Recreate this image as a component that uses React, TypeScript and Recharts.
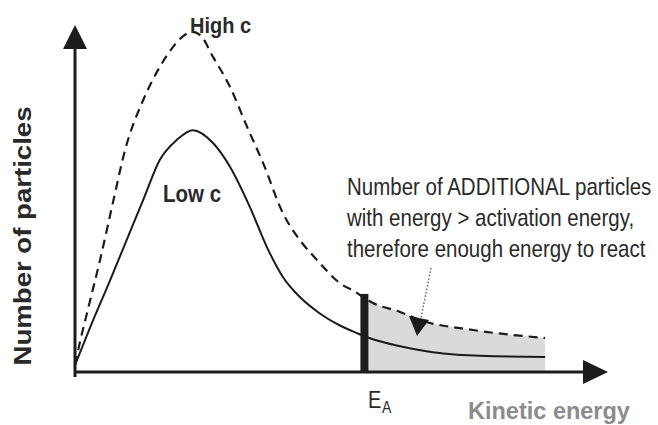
import React from 'react'
import { ComposedChart, Line, Area, XAxis, YAxis, ReferenceLine } from 'recharts'

// kinetic energy (x) / number of particles (y), arbitrary units 0..100
const highEnergy = [0, 0.9, 2.4, 4.7, 7.1, 9.4, 12.8, 15.9, 18.4, 20.3, 22.0, 23.5, 25.9, 29.1, 32.3, 35.3, 39.0, 42.2, 45.4, 49.7, 52.9, 54.6, 55.9, 61.0, 64.7, 74.7, 88.2]
const highCount  = [2.0, 8.4, 17.9, 32.3, 48.7, 64.0, 78.4, 87.9, 93.7, 96.8, 98.0, 97.1, 90.8, 82.1, 70.6, 60.2, 45.8, 38.0, 32.3, 25.6, 22.8, 21.0, 19.9, 17.3, 15.0, 12.1, 9.8]

const lowEnergy = [0, 2.8, 6.6, 10.3, 12.8, 15.9, 19.1, 22.1, 25.9, 29.1, 32.8, 36.0, 39.0, 42.2, 46.0, 49.7, 52.9, 54.8, 61.0, 71.7, 88.2]
const lowCount  = [2.0, 12.7, 26.5, 40.3, 49.6, 61.1, 66.9, 69.7, 66.0, 59.1, 47.6, 36.0, 27.4, 21.6, 16.8, 13.4, 11.2, 10.0, 7.4, 5.0, 4.3]

const activationEnergy = 54.3
const activationTop = 22.5

const high = highEnergy.map((e, i) => ({ e, n: highCount[i] }))
const low = lowEnergy.map((e, i) => ({ e, n: lowCount[i] }))
const shade = high.filter(d => d.e >= activationEnergy)

const INK = '#1c1c1c'
const FONT = '"Liberation Sans", Arial, sans-serif'

type TProps = {
  x: number; y: number; size: number; bold?: boolean; fill?: string
  rotate?: boolean; sy?: number; anchor?: 'start' | 'middle' | 'end'
  children: React.ReactNode
}

function T({ x, y, size, bold, fill = '#2a2a2a', rotate, sy = 1.2, anchor = 'start', children }: TProps) {
  const tr = rotate
    ? `translate(${x},${y}) rotate(-90) scale(${sy},1)`
    : `translate(${x},${y}) scale(1,${sy})`
  return (
    <text transform={tr} fontFamily={FONT} fontSize={size} fontWeight={bold ? 700 : 400}
      fill={fill} textAnchor={anchor}>
      {children}
    </text>
  )
}

// axis line with a filled arrow head at the far end
const arrowAxis = (vertical: boolean) => (p: any) => {
  const { x1, y1, x2, y2 } = p
  if (vertical) {
    const top = Math.min(y1, y2)
    const bottom = Math.max(y1, y2)
    return (
      <g>
        <line x1={x1} y1={bottom + 5} x2={x1} y2={top + 20} stroke={INK} strokeWidth={3} />
        <polygon points={`${x1},${top} ${x1 - 12},${top + 24} ${x1 + 12},${top + 24}`} fill={INK} />
      </g>
    )
  }
  const left = Math.min(x1, x2)
  const right = Math.max(x1, x2)
  return (
    <g>
      <line x1={left - 1} y1={y1} x2={right - 20} y2={y1} stroke={INK} strokeWidth={3} />
      <polygon points={`${right},${y1} ${right - 25},${y1 - 12} ${right - 25},${y1 + 12}`} fill={INK} />
    </g>
  )
}

export default function App() {
  return (
    <div style={{ position: 'absolute', left: 0, top: 0, width: 658, height: 425, background: '#fff', overflow: 'hidden' }}>
      <ComposedChart width={658} height={425} margin={{ top: 25, right: 50, bottom: 53, left: 75 }}>
        <XAxis type="number" dataKey="e" domain={[0, 100]} hide allowDataOverflow />
        <YAxis type="number" domain={[0, 100]} hide allowDataOverflow />
        <Area data={shade} dataKey="n" type="monotone" fill="#dadada" fillOpacity={1}
          stroke="none" baseValue={0} isAnimationActive={false} />
        <Line data={high} dataKey="n" type="monotone" stroke={INK} strokeWidth={2.2}
          strokeDasharray="9 6" dot={false} activeDot={false} isAnimationActive={false} />
        <Line data={low} dataKey="n" type="monotone" stroke={INK} strokeWidth={2}
          dot={false} activeDot={false} isAnimationActive={false} />
        <ReferenceLine segment={[{ x: activationEnergy, y: 0 }, { x: activationEnergy, y: activationTop }]}
          stroke={INK} strokeWidth={8} ifOverflow="visible" />
        <ReferenceLine segment={[{ x: 0, y: 0 }, { x: 100, y: 0 }]} ifOverflow="visible" shape={arrowAxis(false)} />
        <ReferenceLine segment={[{ x: 0, y: 0 }, { x: 0, y: 100 }]} ifOverflow="visible" shape={arrowAxis(true)} />
      </ComposedChart>
      <svg width={658} height={425} style={{ position: 'absolute', left: 0, top: 0, pointerEvents: 'none' }}>
        <T x={190} y={33} size={20} bold sy={1.1}>High c</T>
        <T x={163} y={202} size={20.5} bold>Low c</T>
        <T x={347} y={195} size={20.5}>Number of ADDITIONAL particles</T>
        <T x={347} y={226} size={20.5}>with energy &gt; activation energy,</T>
        <T x={347} y={257} size={20.5}>therefore enough energy to react</T>
        <T x={31} y={236} size={23} bold rotate sy={1.2} anchor="middle">Number of particles</T>
        <T x={368} y={408} size={20}>E</T>
        <T x={382} y={413} size={14}>A</T>
        <T x={468} y={419} size={23.5} bold fill="#8c8c8c" sy={1}>Kinetic energy</T>
        <line x1={431} y1={268} x2={421} y2={318} stroke="#666" strokeWidth={1.5} strokeDasharray="1.5 2" />
        <polygon points="409,316 429,320 417,336" fill={INK} />
      </svg>
    </div>
  )
}
